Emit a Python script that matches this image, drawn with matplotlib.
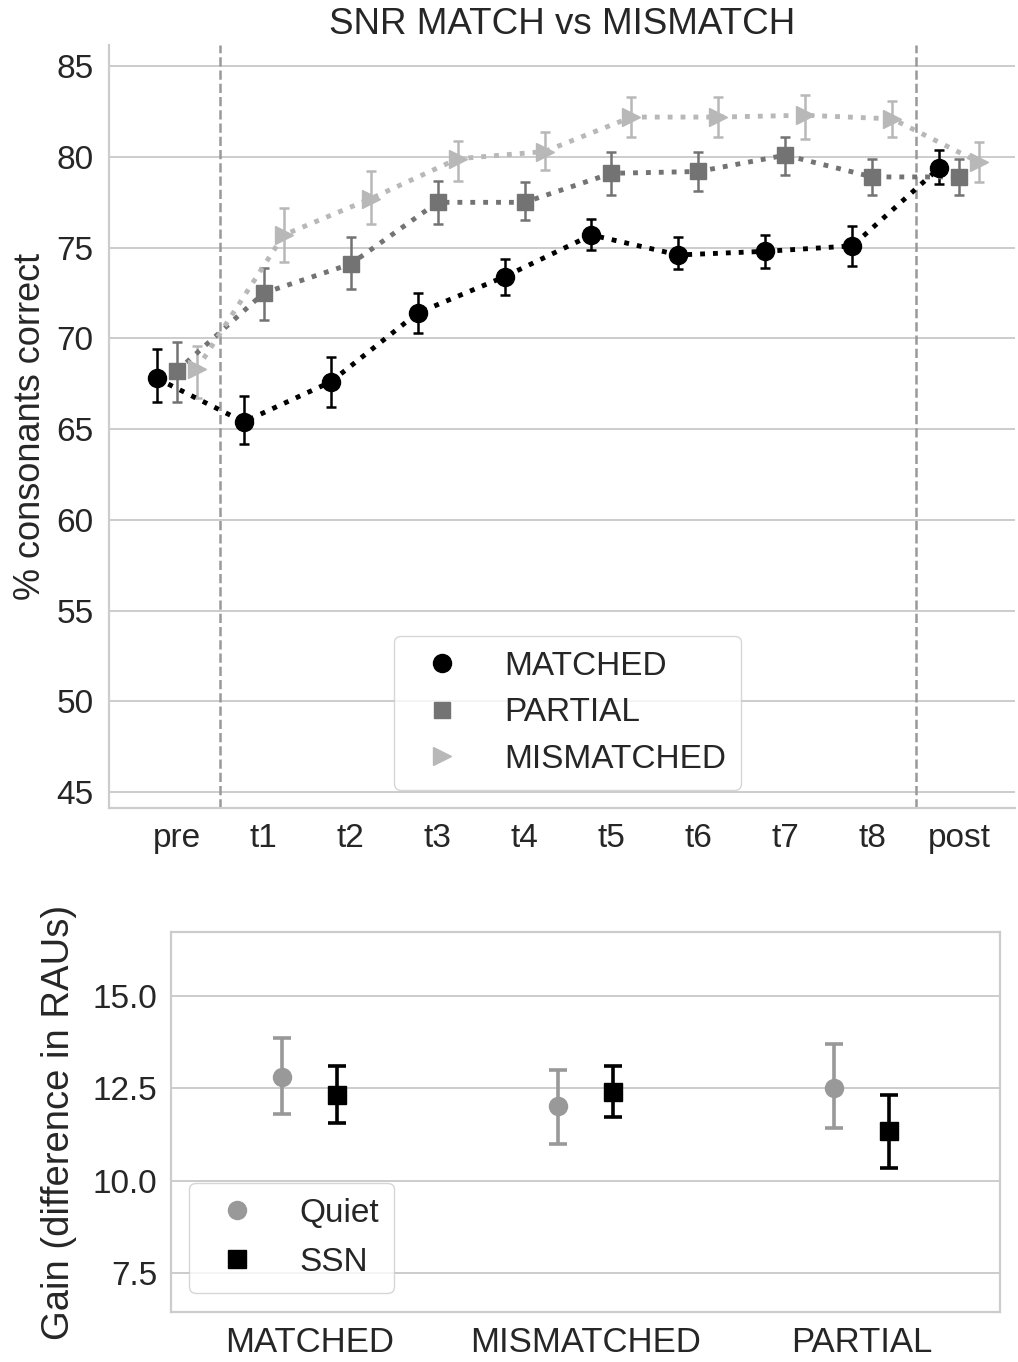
import numpy as np
import matplotlib
matplotlib.use("Agg")
import matplotlib.pyplot as plt

plt.rcParams['font.family'] = ['Liberation Sans', 'DejaVu Sans']
plt.rcParams['text.color'] = '#262626'
plt.rcParams['axes.labelcolor'] = '#262626'
plt.rcParams['xtick.color'] = '#262626'
plt.rcParams['ytick.color'] = '#262626'

# top panel data
sessions = ['pre', 't1', 't2', 't3', 't4', 't5', 't6', 't7', 't8', 'post']
groups = ['MATCHED', 'PARTIAL', 'MISMATCHED']

matched_mean = [67.8, 65.4, 67.6, 71.4, 73.4, 75.7, 74.6, 74.8, 75.1, 79.4]
matched_lo = [66.5, 64.2, 66.2, 70.3, 72.4, 74.9, 73.8, 73.9, 74.0, 78.5]
matched_hi = [69.4, 66.8, 69.0, 72.5, 74.4, 76.6, 75.6, 75.7, 76.2, 80.4]

partial_mean = [68.2, 72.5, 74.1, 77.5, 77.5, 79.1, 79.2, 80.1, 78.9, 78.9]
partial_lo = [66.5, 71.0, 72.7, 76.3, 76.5, 77.9, 78.1, 79.0, 77.9, 77.9]
partial_hi = [69.8, 73.9, 75.6, 78.7, 78.6, 80.3, 80.3, 81.1, 79.9, 79.9]

mismatched_mean = [68.3, 75.7, 77.7, 79.9, 80.3, 82.2, 82.2, 82.3, 82.1, 79.7]
mismatched_lo = [66.7, 74.2, 76.3, 78.7, 79.3, 81.1, 81.1, 81.0, 81.1, 78.6]
mismatched_hi = [69.6, 77.2, 79.2, 80.9, 81.4, 83.3, 83.3, 83.4, 83.1, 80.8]

# bottom panel data
conditions = ['MATCHED', 'MISMATCHED', 'PARTIAL']
noise = ['Quiet', 'SSN']
quiet_gain = [12.81, 12.03, 12.51]
quiet_lo = [11.79, 10.98, 11.42]
quiet_hi = [13.86, 12.99, 13.71]
ssn_gain = [12.33, 12.39, 11.33]
ssn_lo = [11.57, 11.71, 10.35]
ssn_hi = [13.10, 13.09, 12.32]

fig = plt.figure(figsize=(10.18, 13.62), dpi=100)
ax1 = fig.add_axes([0.107, 0.4068, 0.890, 0.560])
ax2 = fig.add_axes([0.168, 0.0367, 0.814, 0.279])

grid_c = '#cccccc'
fs_tick = 24
fs_leg = 24

# ---- top
x = np.arange(len(sessions))
series = [
    (matched_mean, matched_lo, matched_hi, 'black', 'o', 13, -0.23),
    (partial_mean, partial_lo, partial_hi, '#737373', 's', 12, 0.0),
    (mismatched_mean, mismatched_lo, mismatched_hi, '#b8b8b8', '>', 13, 0.23),
]
for name, (m, lo, hi, c, mk, ms, off) in zip(groups, series):
    m = np.array(m); lo = np.array(lo); hi = np.array(hi)
    xs = x + off
    ax1.errorbar(xs, m, yerr=[m - lo, hi - m], fmt='none', ecolor=c,
                 elinewidth=1.8, capsize=3.8, capthick=1.8, zorder=3)
    ax1.plot(xs, m, linestyle=':', color=c, lw=3.5, zorder=4)
    ax1.plot(xs, m, linestyle='none', marker=mk, color=c, ms=ms,
             label=name, zorder=5)

ax1.axvline(0.5, color='#999999', ls='--', lw=1.8, zorder=2)
ax1.axvline(8.5, color='#999999', ls='--', lw=1.8, zorder=2)

ax1.set_xlim(-0.78, 9.64)
ax1.set_ylim(44.12, 86.16)
ax1.set_yticks(np.arange(45, 86, 5))
ax1.set_xticks(x)
ax1.set_xticklabels(sessions)
ax1.tick_params(labelsize=fs_tick, length=0, pad=11)
ax1.grid(axis='y', color=grid_c, lw=1.4)
ax1.set_axisbelow(True)
for s in ['top', 'right']:
    ax1.spines[s].set_visible(False)
for s in ['left', 'bottom']:
    ax1.spines[s].set_color(grid_c)
    ax1.spines[s].set_linewidth(1.6)
ax1.set_ylabel('% consonants correct', fontsize=26, labelpad=6)
ax1.set_title('SNR MATCH vs MISMATCH', fontsize=26.5, pad=8)
ax1.legend(loc='lower center', bbox_to_anchor=(0.506, 0.0236), borderaxespad=0,
           fontsize=fs_leg, handletextpad=0.85, borderpad=0.45, labelspacing=0.47,
           frameon=True, edgecolor=grid_c)

# ---- bottom
xb = np.arange(len(conditions))
bseries = [
    (quiet_gain, quiet_lo, quiet_hi, '#999999', 'o', -0.1),
    (ssn_gain, ssn_lo, ssn_hi, 'black', 's', 0.1),
]
for name, (m, lo, hi, c, mk, off) in zip(noise, bseries):
    m = np.array(m); lo = np.array(lo); hi = np.array(hi)
    ax2.errorbar(xb + off, m, yerr=[m - lo, hi - m], fmt=mk, color=c,
                 ecolor=c, ms=13, elinewidth=2.6, capsize=6.5, capthick=2.6,
                 label=name, zorder=3)

ax2.set_xlim(-0.5, 2.5)
ax2.set_ylim(6.44, 16.73)
ax2.set_yticks([7.5, 10.0, 12.5, 15.0])
ax2.set_yticklabels(['7.5', '10.0', '12.5', '15.0'])
ax2.set_xticks(xb)
ax2.set_xticklabels(conditions)
ax2.tick_params(labelsize=fs_tick, length=0, pad=10)
ax2.tick_params(axis='x', labelsize=25)
ax2.grid(axis='y', color=grid_c, lw=1.4)
ax2.set_axisbelow(True)
for s in ax2.spines.values():
    s.set_color(grid_c)
    s.set_linewidth(1.6)
ax2.set_ylabel('Gain (difference in RAUs)', fontsize=27.5, labelpad=11)
h, l = ax2.get_legend_handles_labels()
h = [hh[0] for hh in h]
ax2.legend(h, l, loc='lower left', bbox_to_anchor=(0.0217, 0.05), borderaxespad=0,
           fontsize=fs_leg, handletextpad=0.85, borderpad=0.45, labelspacing=0.55,
           frameon=True, edgecolor=grid_c)

fig.savefig('out.png', dpi=100)
